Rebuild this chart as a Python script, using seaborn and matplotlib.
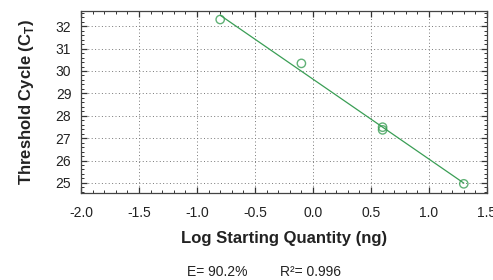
import numpy as np
import pandas as pd
import seaborn as sns
import matplotlib
matplotlib.use("Agg")
import matplotlib.pyplot as plt
from matplotlib.ticker import MultipleLocator, FuncFormatter
from matplotlib import font_manager

log_qty = [-0.80, -0.10, 0.60, 0.60, 1.30]
ct = [32.30, 30.34, 27.49, 27.37, 24.96]
efficiency = "90.2%"
r_squared = "0.996"

df = pd.DataFrame({"x": log_qty, "y": ct})

sns.set_theme(style="white")
names = {f.name for f in font_manager.fontManager.ttflist}
fam = "Liberation Sans Narrow" if "Liberation Sans Narrow" in names else "Liberation Sans"
plt.rcParams["font.family"] = [fam, "DejaVu Sans"]
plt.rcParams["mathtext.fontset"] = "custom"
plt.rcParams["mathtext.rm"] = fam
plt.rcParams["mathtext.bf"] = fam + ":bold"

green = "#3a9e55"
fig = plt.figure(figsize=(4.93, 2.8), dpi=100)
ax = fig.add_axes([0.1643, 0.3107, 0.8235, 0.65])

sns.regplot(data=df, x="x", y="y", ax=ax, ci=None, truncate=True,
            scatter_kws=dict(s=36, facecolors="none", edgecolors=green, linewidths=1.0),
            line_kws=dict(color=green, lw=0.9))

ax.set_xlim(-2.0, 1.5)
ax.set_ylim(24.55, 32.68)
ax.xaxis.set_major_locator(MultipleLocator(0.5))
ax.xaxis.set_minor_locator(MultipleLocator(0.1))
ax.yaxis.set_major_locator(MultipleLocator(1))
ax.yaxis.set_minor_locator(MultipleLocator(0.2))
ax.xaxis.set_major_formatter(FuncFormatter(lambda v, p: f"{v:.1f}"))
ax.yaxis.set_major_formatter(FuncFormatter(lambda v, p: f"{v:.0f}"))
ax.tick_params(axis="both", which="both", direction="in", top=True, right=True,
               bottom=True, left=True, colors="#333333", labelcolor="#222222", labelsize=10)
ax.tick_params(which="major", length=4, width=0.9)
ax.tick_params(which="minor", length=2, width=0.7)
ax.tick_params(axis="x", which="major", pad=9)
ax.tick_params(axis="y", which="major", pad=7)
ax.grid(True, which="major", linestyle=(0, (1, 2.5)), color="#777777", lw=0.7)
for s in ax.spines.values():
    s.set_color("#444444")
    s.set_linewidth(0.9)

ax.set_xlabel("Log Starting Quantity (ng)", fontsize=12, fontweight="bold", color="#222222", labelpad=8)
ax.set_ylabel(r"Threshold Cycle (C$_\mathbf{T}$)", fontsize=12, fontweight="bold", color="#222222", labelpad=14)

fig.text(0.44, 0.015, f"E= {efficiency}", fontsize=10, color="#222222", ha="center")
fig.text(0.63, 0.015, f"R\u00b2= {r_squared}", fontsize=10, color="#222222", ha="center")

fig.savefig("out.png", dpi=100)
